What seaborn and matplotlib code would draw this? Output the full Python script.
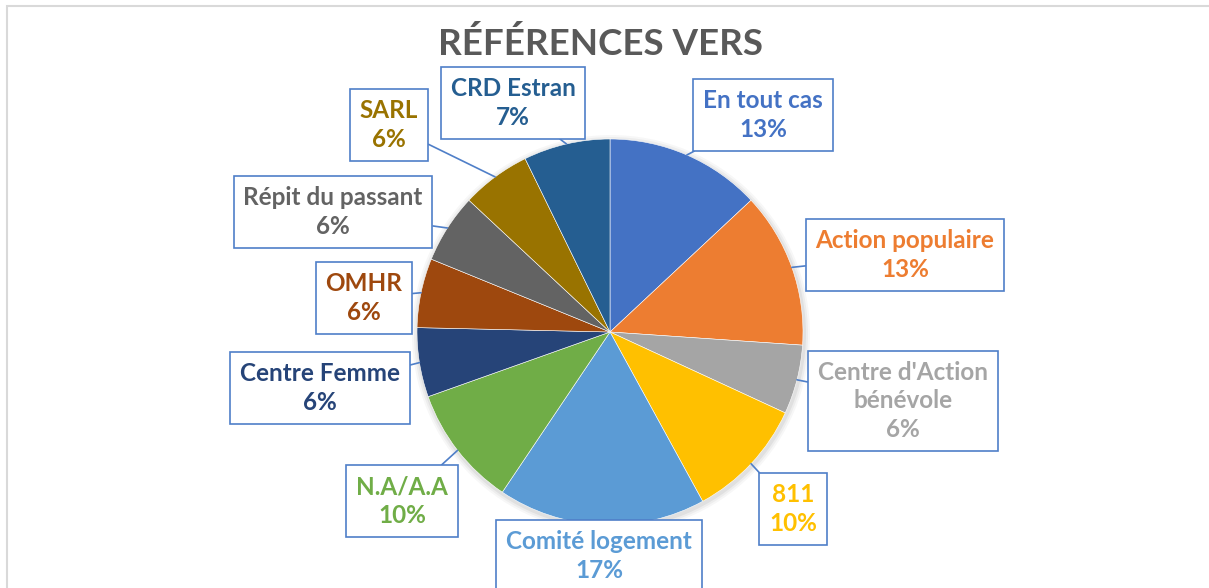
import matplotlib.pyplot as plt
import matplotlib.patches as mpatches
import seaborn as sns
import numpy as np

# data
categories = ["En tout cas", "Action populaire", "Centre d'Action\nbénévole", "811",
              "Comité logement", "N.A/A.A", "Centre Femme", "OMHR",
              "Répit du passant", "SARL", "CRD Estran"]
counts = [9, 9, 4, 7, 12, 7, 4, 4, 4, 4, 5]
colors = ["#4472C4", "#ED7D31", "#A5A5A5", "#FFC000", "#5B9BD5", "#70AD47",
          "#264478", "#9E480E", "#636363", "#997300", "#255E91"]

# label box centres in pixels (x, y from top)
label_pos = [(763, 115), (905, 255), (903, 401), (793, 509), (599, 556), (402, 501),
             (320, 388), (364, 298), (333, 212), (389, 125), (513, 103)]

sns.set_theme(style="white")
plt.rcParams['font.family'] = ['Lato', 'DejaVu Sans']

W, H = 1209, 588
fig = plt.figure(figsize=(W / 100, H / 100), dpi=100)
ax = fig.add_axes([0, 0, 1, 1])

cx, cy, r = 610, H - 332, 193

# soft shadow
for k, a in enumerate([0.05, 0.04, 0.03]):
    ax.add_patch(mpatches.Circle((cx + 1, cy - 2), r + 2 + 2 * k, color='black', alpha=a, lw=0, zorder=1))

wedges, _ = ax.pie(counts, colors=sns.color_palette(colors), startangle=90, counterclock=False,
                   center=(cx, cy), radius=r, wedgeprops=dict(linewidth=0.4, edgecolor='white'),
                   frame=True)
ax.set_xlim(0, W)
ax.set_ylim(0, H)
ax.set_aspect('auto')
ax.axis('off')
for w in wedges:
    w.set_zorder(2)

total = sum(counts)
for w, cat, n, col, (px, py) in zip(wedges, categories, counts, colors, label_pos):
    mid = np.deg2rad((w.theta1 + w.theta2) / 2)
    anchor = (cx + r * np.cos(mid), cy + r * np.sin(mid))
    ax.annotate(f"{cat}\n{round(100 * n / total)}%", xy=anchor, xytext=(px, H - py),
                ha='center', va='center', fontsize=17.5, fontweight='bold', color=col,
                linespacing=1.3, annotation_clip=False, zorder=5,
                bbox=dict(boxstyle='square,pad=0.4', fc='white', ec='#4F7FC8', lw=1.2),
                arrowprops=dict(arrowstyle='-', color='#4F7FC8', lw=1.2, shrinkA=0, shrinkB=0))

ax.text(601, H - 44, "RÉFÉRENCES VERS", ha='center', va='center', fontsize=26.5,
        fontweight='bold', color='#595959')

# chart area border (cropped at bottom/right)
ax.add_patch(mpatches.Rectangle((7, -20), W, H - 6 + 20, fill=False, ec='#D9D9D9', lw=1.5, zorder=0))

plt.savefig('out.png', dpi=100)
plt.close()
